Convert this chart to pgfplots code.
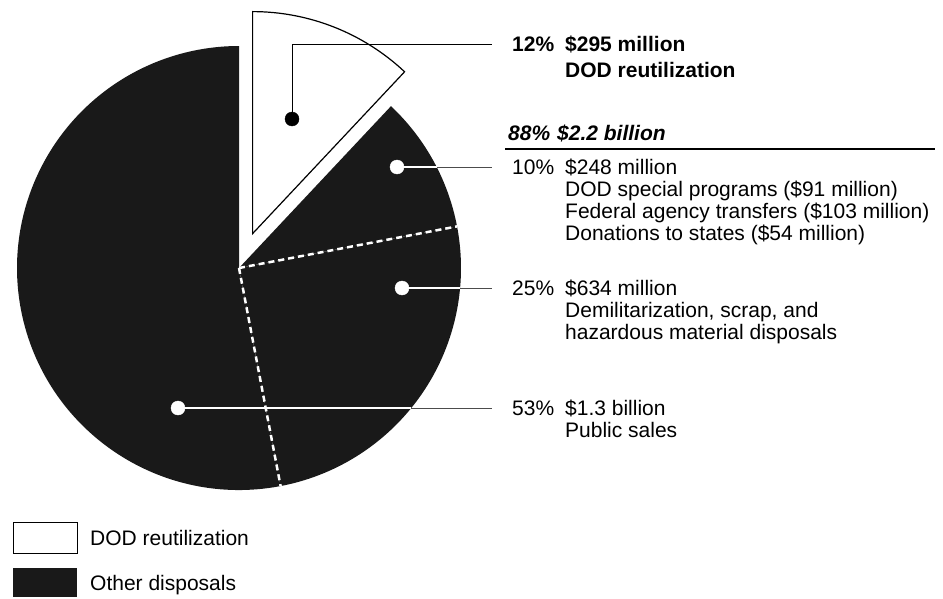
\documentclass[border=0pt]{standalone}
\usepackage{pgfplots}
\pgfplotsset{compat=1.18}
\usepackage{pgfplotstable}
\usepackage{fontspec}
\setmainfont{Liberation Sans}

% shares of the $2.5 billion, in percent
\pgfplotstableread{
share
12
10
25
53
}\piedata

\definecolor{dark}{gray}{0.1}
\definecolor{lead}{gray}{0.3}

% centre, radius and explode distance, in pixels of the picture
\def\cx{239}\def\cy{268}\def\rad{222}\def\expl{37}

\pgfplotstablegetelem{0}{share}\of\piedata\let\sA\pgfplotsretval
\pgfplotstablegetelem{1}{share}\of\piedata\let\sB\pgfplotsretval
\pgfplotstablegetelem{2}{share}\of\piedata\let\sC\pgfplotsretval
\pgfplotstablegetelem{3}{share}\of\piedata\let\sD\pgfplotsretval
\pgfmathsetmacro\aA{90}
\pgfmathsetmacro\aB{\aA-3.6*\sA}
\pgfmathsetmacro\aC{\aB-3.6*\sB}
\pgfmathsetmacro\aD{\aC-3.6*\sC}
\pgfmathsetmacro\aE{\aD-3.6*\sD}
\pgfmathsetmacro\aM{(\aA+\aB)/2}

\tikzset{
  lbl/.style={inner sep=0pt, anchor=west, text height=15bp, text depth=0pt,
    font=\fontsize{21bp}{24bp}\selectfont},
  lblb/.style={lbl, font=\fontsize{21bp}{24bp}\selectfont\bfseries},
  sep/.style={white, line width=2.5bp, dash pattern=on 6bp off 4bp},
}

\begin{document}
\begin{tikzpicture}
\begin{axis}[
    width=943bp, height=599bp, scale only axis,
    xmin=0, xmax=943, ymin=0, ymax=599, y dir=reverse,
    hide axis, clip=false]

% other disposals
\fill[dark] (axis cs:\cx,\cy) -- ++(\aB:\rad bp) arc[start angle=\aB, end angle=\aC, radius=\rad bp] -- cycle;
\fill[dark] (axis cs:\cx,\cy) -- ++(\aC:\rad bp) arc[start angle=\aC, end angle=\aD, radius=\rad bp] -- cycle;
\fill[dark] (axis cs:\cx,\cy) -- ++(\aD:\rad bp) arc[start angle=\aD, end angle=\aE, radius=\rad bp] -- cycle;
\draw[sep] (axis cs:\cx,\cy) -- ++(\aC:\rad bp);
\draw[sep] (axis cs:\cx,\cy) -- ++(\aD:\rad bp);

% DOD reutilization, pulled out
\filldraw[fill=white, draw=black, line width=1.2bp]
  ([shift={(\aM:\expl bp)}]axis cs:\cx,\cy) -- ++(\aA:\rad bp)
  arc[start angle=\aA, end angle=\aB, radius=\rad bp] -- cycle;

% leaders
\addplot[black, line width=1bp] coordinates {(292,119) (292,45) (492,45)};
\addplot[white, line width=1.3bp] coordinates {(397,167) (437,167)};
\addplot[lead, line width=1bp] coordinates {(437,167) (492,167)};
\addplot[white, line width=1.3bp] coordinates {(402,288) (460,288)};
\addplot[lead, line width=1bp] coordinates {(460,288) (492,288)};
\addplot[white, line width=1.3bp] coordinates {(178,408) (411,408)};
\addplot[lead, line width=1bp] coordinates {(411,408) (492,408)};

\addplot[only marks, mark=*, mark size=7bp, black] coordinates {(292,119)};
\addplot[only marks, mark=*, mark size=7bp, white] coordinates {(397,167) (402,288) (178,408)};

% labels
\node[lblb] at (axis cs:512,44) {12\%};
\node[lblb] at (axis cs:565,44) {\$295 million};
\node[lblb] at (axis cs:565,70) {DOD reutilization};

\node[lbl, font=\fontsize{21bp}{24bp}\selectfont\bfseries\itshape] at (axis cs:508,133) {88\%};
\node[lbl, font=\fontsize{21bp}{24bp}\selectfont\bfseries\itshape] at (axis cs:557,133) {\$2.2 billion};
\draw[black, line width=1.2bp] (axis cs:505,149) -- (axis cs:935,149);

\node[lbl] at (axis cs:512,167) {10\%};
\node[lbl] at (axis cs:565,167) {\$248 million};
\node[lbl] at (axis cs:565,189) {DOD special programs (\$91 million)};
\node[lbl] at (axis cs:565,211) {Federal agency transfers (\$103 million)};
\node[lbl] at (axis cs:565,233) {Donations to states (\$54 million)};

\node[lbl] at (axis cs:512,288) {25\%};
\node[lbl] at (axis cs:565,288) {\$634 million};
\node[lbl] at (axis cs:565,310) {Demilitarization, scrap, and};
\node[lbl] at (axis cs:565,332) {hazardous material disposals};

\node[lbl] at (axis cs:512,408) {53\%};
\node[lbl] at (axis cs:565,408) {\$1.3 billion};
\node[lbl] at (axis cs:565,430) {Public sales};

% legend
\draw[black, line width=1bp, fill=white] (axis cs:13,522) rectangle (axis cs:77,553);
\fill[dark] (axis cs:13,568) rectangle (axis cs:77,597);
\node[lbl] at (axis cs:90,538) {DOD reutilization};
\node[lbl] at (axis cs:90,583) {Other disposals};
\end{axis}
\pgfresetboundingbox
\path[use as bounding box] (0,0) rectangle (943bp,599bp);
\end{tikzpicture}
\end{document}
